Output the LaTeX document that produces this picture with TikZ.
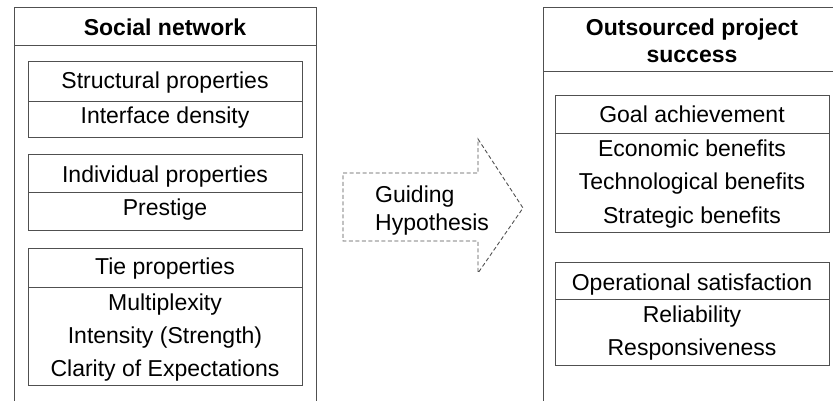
\documentclass[tikz,border=0pt]{standalone}
\usepackage{fontspec}
\setmainfont{Liberation Sans}
\definecolor{L}{RGB}{80,80,80}

\tikzset{
  lab/.style={anchor=base, inner sep=0pt, font=\fontsize{23}{27}\selectfont},
  head/.style={lab, font=\fontsize{23}{27}\selectfont\bfseries},
  frame/.style={draw=L, line width=0.9pt}
}

\begin{document}
\begin{tikzpicture}[x=1pt,y=-1pt]
    \useasboundingbox (0,0) rectangle (833,400);
    \clip (0,0) rectangle (833,400);

    %Caja izquierda (red social)
    \draw[frame] (14,7) rectangle (316,410);
    \draw[frame] (14,45) -- (316,45);
    \node[head] (social) at (165,35) {Social network};

    %Propiedades estructurales
    \draw[frame] (28,61) rectangle (302,137);
    \draw[frame] (28,101) -- (302,101);
    \node[lab] (struct) at (165,88) {Structural properties};
    \node[lab] (density) at (165,123) {Interface density};

    %Propiedades individuales
    \draw[frame] (28,154) rectangle (302,230);
    \draw[frame] (28,192) -- (302,192);
    \node[lab] (indiv) at (165,182) {Individual properties};
    \node[lab] (prestige) at (165,215) {Prestige};

    %Propiedades del lazo
    \draw[frame] (28,248) rectangle (302,385);
    \draw[frame] (28,287) -- (302,287);
    \node[lab] (tie) at (165,274) {Tie properties};
    \node[lab] (multi) at (165,310) {Multiplexity};
    \node[lab] (intens) at (165,343) {Intensity (Strength)};
    \node[lab] (clarity) at (165,376) {Clarity of Expectations};

    %Flecha de la hipotesis
    \draw[L, line width=0.9pt, dash pattern=on 4pt off 2.5pt]
        (343,173) -- (478,173) -- (478,139) -- (523,208)
        -- (478,273) -- (478,241) -- (343,241) -- cycle;
    \node[lab, anchor=base west] (guiding) at (375,202) {Guiding};
    \node[lab, anchor=base west] (hypo) at (375,230) {Hypothesis};

    %Caja derecha (exito del proyecto)
    \draw[frame] (543,7) rectangle (845,410);
    \draw[frame] (543,71) -- (845,71);
    \node[head] (outs) at (692,35) {Outsourced project};
    \node[head] (succ) at (692,62) {success};

    %Logro de objetivos
    \draw[frame] (555,95) rectangle (829,232);
    \draw[frame] (555,133) -- (829,133);
    \node[lab] (goal) at (692,122) {Goal achievement};
    \node[lab] (econ) at (692,156) {Economic benefits};
    \node[lab] (tech) at (692,189) {Technological benefits};
    \node[lab] (strat) at (692,223) {Strategic benefits};

    %Satisfaccion operativa
    \draw[frame] (555,262) rectangle (829,365);
    \draw[frame] (555,299) -- (829,299);
    \node[lab] (oper) at (692,290) {Operational satisfaction};
    \node[lab] (reli) at (692,322) {Reliability};
    \node[lab] (resp) at (692,355) {Responsiveness};
\end{tikzpicture}
\end{document}
